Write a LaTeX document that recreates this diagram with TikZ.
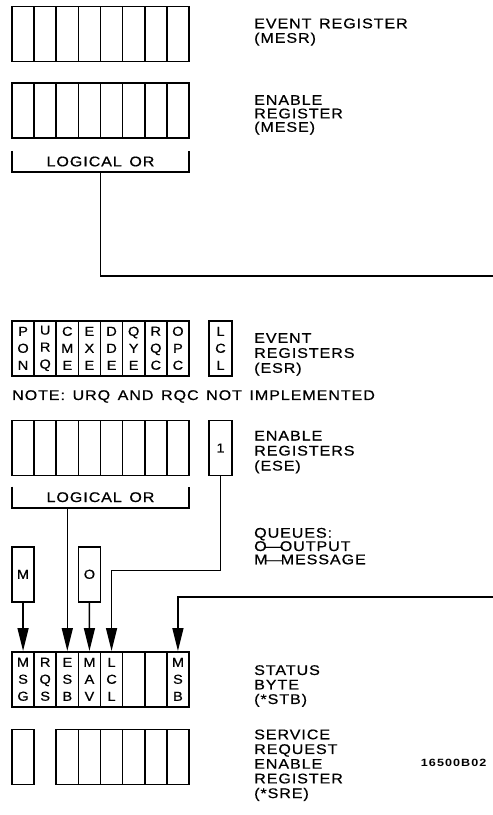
\documentclass[tikz,border=0pt]{standalone}
\usepackage{fontspec}
\newfontfamily\hpfont[FakeStretch=1.15,FakeBold=0.6,LetterSpace=6.5,WordSpace=1.4]{Liberation Sans}
\newfontfamily\cellfont[FakeStretch=1.12,FakeBold=0.6]{Liberation Sans}
\newfontfamily\fignofont[FakeStretch=1.2,LetterSpace=10]{Liberation Sans}
\usetikzlibrary{arrows.meta,calc}

\begin{document}
\begin{tikzpicture}[
  x=1pt, y=-1pt,
  cell/.style={draw, line width=1.6pt, minimum width=22.125pt, minimum height=55pt,
    inner sep=0pt, align=center, font=\cellfont\fontsize{13pt}{17pt}\selectfont},
  regtext/.style={anchor=north west, inner sep=0pt, align=left,
    font=\hpfont\fontsize{14pt}{14.5pt}\selectfont},
  orbox/.style={minimum width=177pt, minimum height=21pt, inner sep=0pt,
    font=\hpfont\fontsize{14pt}{14pt}\selectfont},
  wire/.style={line width=1.6pt},
  sig/.style={wire, -{Triangle[length=23pt,width=11pt]}}
]
  \useasboundingbox (0,0) rectangle (493,815);

  % Message event and enable registers
  \foreach \i in {0,...,7} {
    \node[cell] (mesr\i) at ({23.06+22.125*\i},33.8) {};
    \node[cell] (mese\i) at ({23.06+22.125*\i},110.5) {};
  }
  \node[regtext] (mesrlbl) at (254,18.3) {EVENT REGISTER\\(MESR)};
  \node[regtext, font=\hpfont\fontsize{14pt}{13.5pt}\selectfont] (meselbl) at (254,95) {ENABLE\\REGISTER\\(MESE)};

  \node[orbox] (mesor) at (100.5,161.5) {LOGICAL OR};
  \draw[wire] (mesor.north west) |- (mesor.south east) -- (mesor.north east);

  \coordinate (mout) at (493,276);
  \draw[wire] (mesor.south) |- (mout);

  % Standard event status and enable registers
  \foreach \i/\ta/\tb/\tc in {0/P/O/N,1/U/R/Q,2/C/M/E,3/E/X/E,4/D/D/E,5/Q/Y/E,6/R/Q/C,7/O/P/C}
    \node[cell] (esr\i) at ({23.06+22.125*\i},348.3) {\ta\\\tb\\\tc};
  \node[cell, minimum width=23pt] (esrlcl) at (220.5,348.3) {L\\C\\L};
  \node[regtext, font=\hpfont\fontsize{14pt}{15pt}\selectfont] (esrlbl) at (254,333) {EVENT\\REGISTERS\\(ESR)};

  \node[regtext] (note) at (12,390) {NOTE: URQ AND RQC NOT IMPLEMENTED};

  \foreach \i in {0,...,7}
    \node[cell] (ese\i) at ({23.06+22.125*\i},448) {};
  \node[cell, minimum width=23pt] (ese1bit) at (220.5,448) {1};
  \node[regtext, font=\hpfont\fontsize{14pt}{15pt}\selectfont] (eselbl) at (254,430.7) {ENABLE\\REGISTERS\\(ESE)};

  \node[orbox] (eseor) at (100.5,497.2) {LOGICAL OR};
  \draw[wire] (eseor.north west) |- (eseor.south east) -- (eseor.north east);

  % Queues
  \node[regtext, font=\hpfont\fontsize{14pt}{13.3pt}\selectfont] (queues) at (254,527.7) {QUEUES:\\O\kern-1.5pt—\kern-1.5ptOUTPUT\\M\kern-1.5pt—\kern-1.5ptMESSAGE};
  \node[cell] (mq) at (23.06,574.3) {M};
  \node[cell] (oq) at (89.44,574.3) {O};

  % Status byte and service request enable register
  \foreach \i/\ta/\tb/\tc in {0/M/S/G,1/R/Q/S,2/E/S/B,3/M/A/V,4/L/C/L,7/M/S/B}
    \node[cell] (stb\i) at ({23.06+22.125*\i},679.3) {\ta\\\tb\\\tc};
  \foreach \i in {5,6}
    \node[cell] (stb\i) at ({23.06+22.125*\i},679.3) {};
  \node[regtext] (stblbl) at (254,665) {STATUS\\BYTE\\({*}STB)};

  \foreach \i in {0,2,3,4,5,6,7}
    \node[cell] (sre\i) at ({23.06+22.125*\i},757) {};
  \node[regtext, font=\hpfont\fontsize{14pt}{14.7pt}\selectfont] (srelbl) at (254,729.3) {SERVICE\\REQUEST\\ENABLE\\REGISTER\\({*}SRE)};

  \node[anchor=north west, inner sep=0pt, font=\fignofont\bfseries\fontsize{10.5pt}{10.5pt}\selectfont] (figno) at (420.7,759) {16500B02};

  % Summary bits into the status byte
  \draw[sig] (mq.south) -- (stb0.north);
  \draw[sig] (oq.south) -- (stb3.north);
  \draw[sig] (eseor.south -| stb2.north) -- (stb2.north);
  \draw[sig] (ese1bit.south) -- ++(0,94) -| (stb4.north);
  \coordinate (msbin) at (493,597);
  \draw[sig] (msbin) -| (stb7.north);

\end{tikzpicture}
\end{document}
